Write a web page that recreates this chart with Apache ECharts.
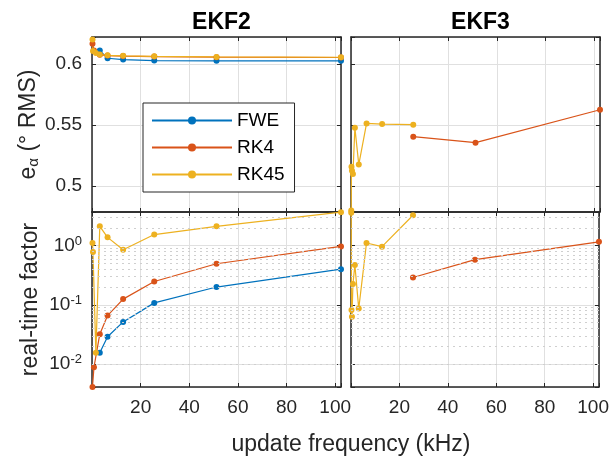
<!DOCTYPE html>
<html>
<head>
<meta charset="utf-8">
<script src="https://cdn.jsdelivr.net/npm/echarts@6/dist/echarts.min.js"></script>
<style>
  html, body { margin: 0; padding: 0; background: #fff; }
  #chart { width: 612px; height: 457px; }
</style>
</head>
<body>
<div id="chart"></div>
<script>
// EKF2 - update frequency (kHz), attitude error (deg RMS), real-time factor
const fweFreq2 = [3.2, 6.4, 12.8, 25.6, 51.2, 102.4];
const fweErr2 = [0.6109, 0.6046, 0.6035, 0.6027, 0.6025, 0.6025];
const fweRtf2 = [0.0155, 0.029, 0.0515, 0.108, 0.20, 0.40];

const rk4Freq2 = [0.2, 0.8, 3.2, 6.4, 12.8, 25.6, 51.2, 102.4];
const rk4Err2 = [0.6165, 0.611, 0.6074, 0.6068, 0.6064, 0.606, 0.6055, 0.6052];
const rk4Rtf2 = [0.0041, 0.0088, 0.032, 0.066, 0.125, 0.248, 0.495, 0.97];

const rk45Freq2 = [0.2, 0.4, 1.6, 3.2, 6.4, 12.8, 25.6, 51.2, 102.4];
const rk45Err2 = [0.62, 0.6105, 0.609, 0.6076, 0.607, 0.6066, 0.6062, 0.6057, 0.6054];
const rk45Rtf2 = [1.11, 0.78, 0.0156, 2.12, 1.38, 0.85, 1.54, 2.12, 3.67];

// EKF3
const rk4Freq3 = [25.6, 51.2, 102.4];
const rk4Err3 = [0.5404, 0.5355, 0.5624];
const rk4Rtf3 = [0.29, 0.58, 1.16];

const rk45Freq3 = [0.1, 0.2, 0.4, 0.8, 1.6, 3.2, 6.4, 12.8, 25.6];
const rk45Err3 = [0.480, 0.5158, 0.5125, 0.5098, 0.5477, 0.5175, 0.5512, 0.5507, 0.5502];
const rk45Rtf3 = [3.6, 0.082, 0.063, 0.224, 0.47, 0.0865, 1.11, 0.96, 3.26];

const xTicks = [20, 40, 60, 80, 100];
const errTicks = [0.5, 0.55, 0.6];

const colors = { FWE: "#0072BD", RK4: "#D95319", RK45: "#EDB120" };
const fontFamily = '"Liberation Sans", Arial, Helvetica, sans-serif';
const axisColor = "#262626";
const gridColor = "#e0e0e0";

const xMax = 102.4;
const errMin = 0.4787, errMax = 0.622;
const rtfMin = 0.0041, rtfMax = 3.7;

const LEFTS = [92, 351], TOPS = [37, 212], W = 249, H = 175;

let grids = [];
for (let r = 0; r < 2; r++) {
  for (let c = 0; c < 2; c++) {
    grids.push({ left: LEFTS[c], top: TOPS[r], width: W, height: H });
  }
}

//x axes: bottom (primary) + top (ticks only) for every grid
let xAxes = [];
grids.forEach((g, gi) => {
  [true, false].forEach((bottom) => {
    xAxes.push({
      type: "value",
      gridIndex: gi,
      position: bottom ? "bottom" : "top",
      min: 0,
      max: xMax,
      interval: 20,
      axisLine: { show: true, onZero: false, lineStyle: { color: axisColor, width: 1.5 } },
      axisTick: { show: true, inside: true, length: 4, lineStyle: { color: axisColor } },
      axisLabel: {
        show: bottom && gi >= 2,
        margin: 11,
        color: axisColor,
        fontSize: 19,
        fontFamily: fontFamily,
        formatter: (v) => (xTicks.indexOf(v) >= 0 ? String(v) : ""),
      },
      splitLine: { show: bottom, lineStyle: { color: gridColor } },
    });
  });
});

//y axes: left (primary) + right (ticks only)
let yAxes = [];
grids.forEach((g, gi) => {
  const isTop = gi < 2;
  const isLeftCol = gi % 2 === 0;
  [true, false].forEach((left) => {
    let ax = {
      gridIndex: gi,
      position: left ? "left" : "right",
      axisLine: { show: true, onZero: false, lineStyle: { color: axisColor, width: 1.5 } },
      axisTick: { show: true, inside: true, length: 4, lineStyle: { color: axisColor } },
      splitLine: { show: left, lineStyle: { color: gridColor } },
      axisLabel: {
        show: left && isLeftCol,
        margin: 10,
        color: axisColor,
        fontSize: 19,
        fontFamily: fontFamily,
      },
    };
    if (isTop) {
      ax.type = "value";
      ax.min = errMin;
      ax.max = errMax;
      ax.splitNumber = 3;
      ax.axisLabel.formatter = (v) => {
        let hit = errTicks.find((t) => Math.abs(t - v) < 1e-6);
        return hit === undefined ? "" : String(hit);
      };
    } else {
      ax.type = "log";
      ax.logBase = 10;
      ax.min = rtfMin;
      ax.max = rtfMax;
      ax.axisLabel.formatter = (v) => {
        let l = Math.log10(v);
        if (Math.abs(l - Math.round(l)) > 1e-6) return "";
        return "10{sup|" + Math.round(l) + "}";
      };
      ax.axisLabel.rich = {
        sup: { fontSize: 13, fontFamily: fontFamily, color: axisColor, padding: [0, 0, 9, 0] },
      };
    }
    if (left && isLeftCol) {
      ax.nameLocation = "middle";
      ax.nameGap = 50;
      ax.nameTextStyle = { fontSize: 23, fontFamily: fontFamily, color: axisColor };
      if (isTop) {
        ax.name = "{t|e}{s|α}{t| (° RMS)}";
        ax.nameTextStyle.rich = {
          t: { fontSize: 23, fontFamily: fontFamily, color: axisColor },
          s: { fontSize: 15, fontFamily: fontFamily, color: axisColor, padding: [10, 0, 0, 0] },
        };
      } else {
        ax.name = "real-time factor";
      }
    }
    yAxes.push(ax);
  });
});

//minor grid lines for the log panels
let minorVals = [];
for (let e = -3; e <= 0; e++) {
  for (let k = 2; k <= 9; k++) {
    let v = k * Math.pow(10, e);
    if (v > rtfMin && v < rtfMax) minorVals.push(v);
  }
}

function lineSeries(name, gi, xs, ys) {
  return {
    name: name,
    type: "line",
    xAxisIndex: gi * 2,
    yAxisIndex: gi * 2,
    data: xs.map((x, i) => [x, ys[i]]),
    symbol: "circle",
    symbolSize: 6,
    showSymbol: true,
    clip: false,
    z: 3,
    color: colors[name],
    lineStyle: { width: 1.2, color: colors[name] },
    itemStyle: { color: colors[name] },
  };
}

function minorSeries(gi) {
  return {
    type: "line",
    xAxisIndex: gi * 2,
    yAxisIndex: gi * 2,
    data: [],
    z: 1,
    markLine: {
      silent: true,
      symbol: "none",
      animation: false,
      label: { show: false },
      lineStyle: { type: [2, 4], color: "#cfcfcf", width: 1 },
      data: minorVals.map((v) => ({ yAxis: v })),
    },
  };
}

let series = [
  minorSeries(2),
  minorSeries(3),
  lineSeries("FWE", 0, fweFreq2, fweErr2),
  lineSeries("RK4", 0, rk4Freq2, rk4Err2),
  lineSeries("RK45", 0, rk45Freq2, rk45Err2),
  lineSeries("RK4", 1, rk4Freq3, rk4Err3),
  lineSeries("RK45", 1, rk45Freq3, rk45Err3),
  lineSeries("FWE", 2, fweFreq2, fweRtf2),
  lineSeries("RK4", 2, rk4Freq2, rk4Rtf2),
  lineSeries("RK45", 2, rk45Freq2, rk45Rtf2),
  lineSeries("RK4", 3, rk4Freq3, rk4Rtf3),
  lineSeries("RK45", 3, rk45Freq3, rk45Rtf3),
];

let option = {
  animation: false,
  backgroundColor: "#fff",
  textStyle: { fontFamily: fontFamily },
  title: [
    { text: "EKF2", left: 216.5, top: 6, textAlign: "center",
      textStyle: { fontSize: 23, fontWeight: "bold", color: "#000", fontFamily: fontFamily } },
    { text: "EKF3", left: 475.5, top: 6, textAlign: "center",
      textStyle: { fontSize: 23, fontWeight: "bold", color: "#000", fontFamily: fontFamily } },
    { text: "update frequency (kHz)", left: 346, top: 428, textAlign: "center",
      textStyle: { fontSize: 23, fontWeight: "normal", color: axisColor, fontFamily: fontFamily } },
  ],
  legend: {
    data: ["FWE", "RK4", "RK45"],
    orient: "vertical",
    left: 143,
    top: 103,
    itemWidth: 80,
    itemHeight: 10,
    itemGap: 8,
    padding: [8, 10, 8, 8],
    backgroundColor: "#fff",
    borderColor: axisColor,
    borderWidth: 1,
    textStyle: { fontSize: 19, color: "#000", fontFamily: fontFamily },
  },
  grid: grids,
  xAxis: xAxes,
  yAxis: yAxes,
  series: series,
};

let chart = echarts.init(document.getElementById("chart"));
chart.setOption(option);
</script>
</body>
</html>
